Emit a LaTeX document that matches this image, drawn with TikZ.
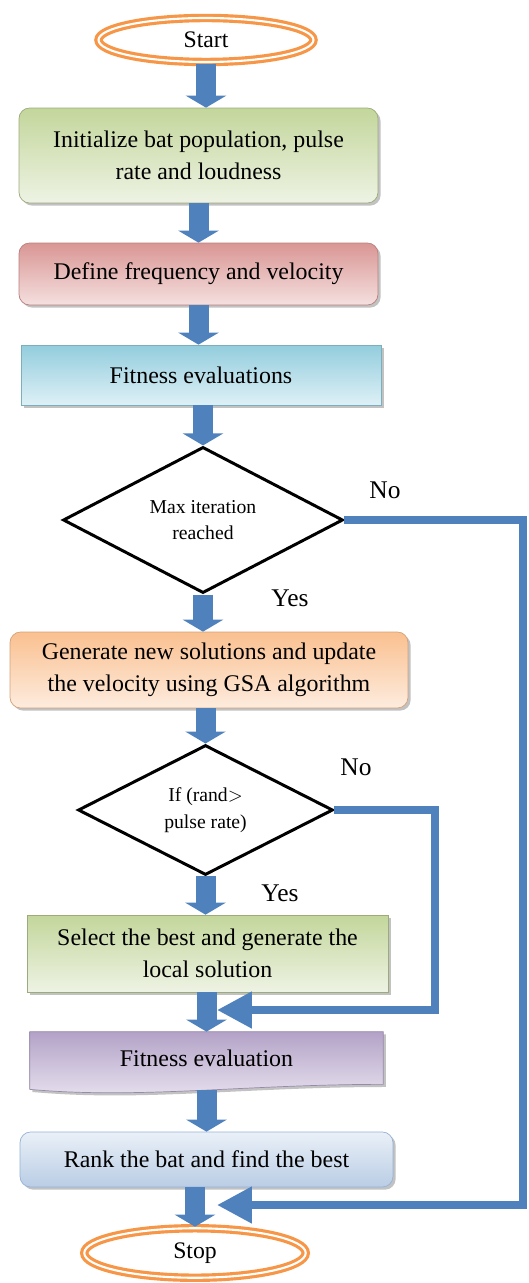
\documentclass[tikz,border=0pt]{standalone}
\usepackage{fontspec}
\setmainfont{Liberation Serif}
\usetikzlibrary{positioning,shapes.geometric,arrows.meta,shadows,backgrounds}

\begin{document}
\begin{tikzpicture}[x=0.02cm, y=-0.02cm, every node/.style={align=center}]
    % colours
    \definecolor{batblue}{RGB}{79,129,189}
    \definecolor{termorange}{RGB}{247,150,70}
    \definecolor{greendark}{RGB}{195,214,155}
    \definecolor{greenlight}{RGB}{238,243,228}
    \definecolor{reddark}{RGB}{217,150,148}
    \definecolor{redlight}{RGB}{244,224,223}
    \definecolor{cyandark}{RGB}{147,205,221}
    \definecolor{cyanlight}{RGB}{222,240,246}
    \definecolor{orangedark}{RGB}{250,192,144}
    \definecolor{orangelight}{RGB}{253,236,222}
    \definecolor{purpledark}{RGB}{179,162,199}
    \definecolor{purplelight}{RGB}{232,227,239}
    \definecolor{rankdark}{RGB}{185,205,229}
    \definecolor{rankedge}{RGB}{149,179,215}

    % styles
    \tikzstyle{process} = [rectangle, inner sep=2pt, font=\fontsize{13.6}{18}\selectfont,
        drop shadow={shadow xshift=1.5pt, shadow yshift=-1.5pt, fill=black!40, opacity=0.6}]
    \tikzstyle{terminal} = [ellipse, draw=termorange, line width=1.8pt, double=white, double distance=1.2pt, font=\fontsize{13.5}{15}\selectfont]
    \tikzstyle{decision} = [diamond, draw=black, line width=1.7pt, inner sep=0pt, font=\fontsize{11.2}{15}\selectfont]
    \tikzstyle{flowarrow} = [batblue, line width=0.4cm, -{Triangle[width=0.8cm, length=0.24cm]}]
    \tikzstyle{backarrow} = [batblue, line width=0.16cm, -{Triangle[width=0.7cm, length=0.7cm]}]
    \tikzstyle{lbl} = [font=\fontsize{14.5}{16}\selectfont]

    \useasboundingbox (0,0) rectangle (528,1283);

    % terminals
    \node[terminal, minimum width=4.3cm, minimum height=0.88cm] (start) at (206,40) {Start};
    \node[terminal, minimum width=4.43cm, minimum height=0.99cm] (stop) at (195,1253) {Stop};

    % process boxes
    \node[process, rounded corners=6pt, draw=greendark!80!black, top color=greendark, bottom color=greenlight,
        minimum width=7.18cm, minimum height=1.9cm] (init) at (198.5,155.5) {Initialize bat population, pulse\\rate and loudness};
    \node[process, rounded corners=6pt, draw=reddark!85!black, top color=reddark, bottom color=redlight,
        minimum width=7.18cm, minimum height=1.24cm] (freq) at (198.5,274) {Define frequency and velocity};
    \node[process, draw=cyandark!85!black, top color=cyandark, bottom color=cyanlight,
        minimum width=7.2cm, minimum height=1.2cm] (fit1) at (201,375) {Fitness evaluations};

    \node[decision, minimum width=5.6cm, minimum height=2.88cm] (maxit) at (203,520) {Max iteration\\reached};

    \node[process, rounded corners=6pt, draw=orangedark!85!black, top color=orangedark, bottom color=orangelight,
        minimum width=7.96cm, minimum height=1.52cm] (gsa) at (209,670) {Generate new solutions and update\\the velocity using GSA algorithm};

    \node[decision, minimum width=5.1cm, minimum height=2.6cm] (pulse) at (205.5,810) {If (rand$>$\\pulse rate)};

    \node[process, draw=greendark!80!black, top color=greendark, bottom color=greenlight,
        minimum width=7.22cm, minimum height=1.54cm] (local) at (207.5,953.5) {Select the best and generate the\\local solution};

    % document shape drawn behind its text
    \node[rectangle, font=\fontsize{13.6}{18}\selectfont, minimum width=7.06cm, minimum height=1.04cm] (fit2) at (206.5,1058) {Fitness evaluation};
    \begin{scope}[on background layer]
        \shadedraw[draw=purpledark!85!black, top color=purpledark, bottom color=purplelight,
            drop shadow={shadow xshift=1.5pt, shadow yshift=-1.5pt, fill=black!40, opacity=0.6}]
            (fit2.north west) -- (fit2.north east) -- (fit2.south east)
            .. controls +(-140,0) and +(110,10) .. ([yshift=-0.1cm]fit2.south west) -- cycle;
    \end{scope}

    \node[process, rounded corners=6pt, draw=rankedge, top color=white!70!rankdark, bottom color=rankdark,
        minimum width=7.46cm, minimum height=1.1cm] (rank) at (206.5,1159.5) {Rank the bat and find the best};

    % block arrows
    \draw[flowarrow] (start.south) -- (start.south |- init.north);
    \draw[flowarrow] (init.south) -- (init.south |- freq.north);
    \draw[flowarrow] (freq.south) -- (freq.south |- fit1.north);
    \draw[flowarrow] (fit1.south -| maxit.north) -- (maxit.north);
    \draw[flowarrow] (maxit.south) -- (maxit.south |- gsa.north);
    \draw[flowarrow] (gsa.south -| pulse.north) -- (pulse.north);
    \draw[flowarrow] (pulse.south) -- (pulse.south |- local.north);
    \draw[flowarrow] (local.south -| fit2.north) -- (fit2.north);
    \draw[flowarrow] ([yshift=-0.12cm]fit2.south) -- (fit2.south |- rank.north);
    \draw[flowarrow] (rank.south -| stop.north) -- (stop.north);

    % No branches
    \coordinate (turn1) at (435,1010);
    \coordinate (join1) at (217,1010);
    \coordinate (turn2) at (523,1205);
    \coordinate (join2) at (217,1205);
    \draw[backarrow] (pulse.east) -| (turn1) -- (join1);
    \draw[backarrow] (maxit.east) -| (turn2) -- (join2);

    % labels
    \node[lbl] (no1) at (385,490) {No};
    \node[lbl] (yes1) at (290,598) {Yes};
    \node[lbl] (no2) at (356,767) {No};
    \node[lbl] (yes2) at (280,893) {Yes};
\end{tikzpicture}
\end{document}
